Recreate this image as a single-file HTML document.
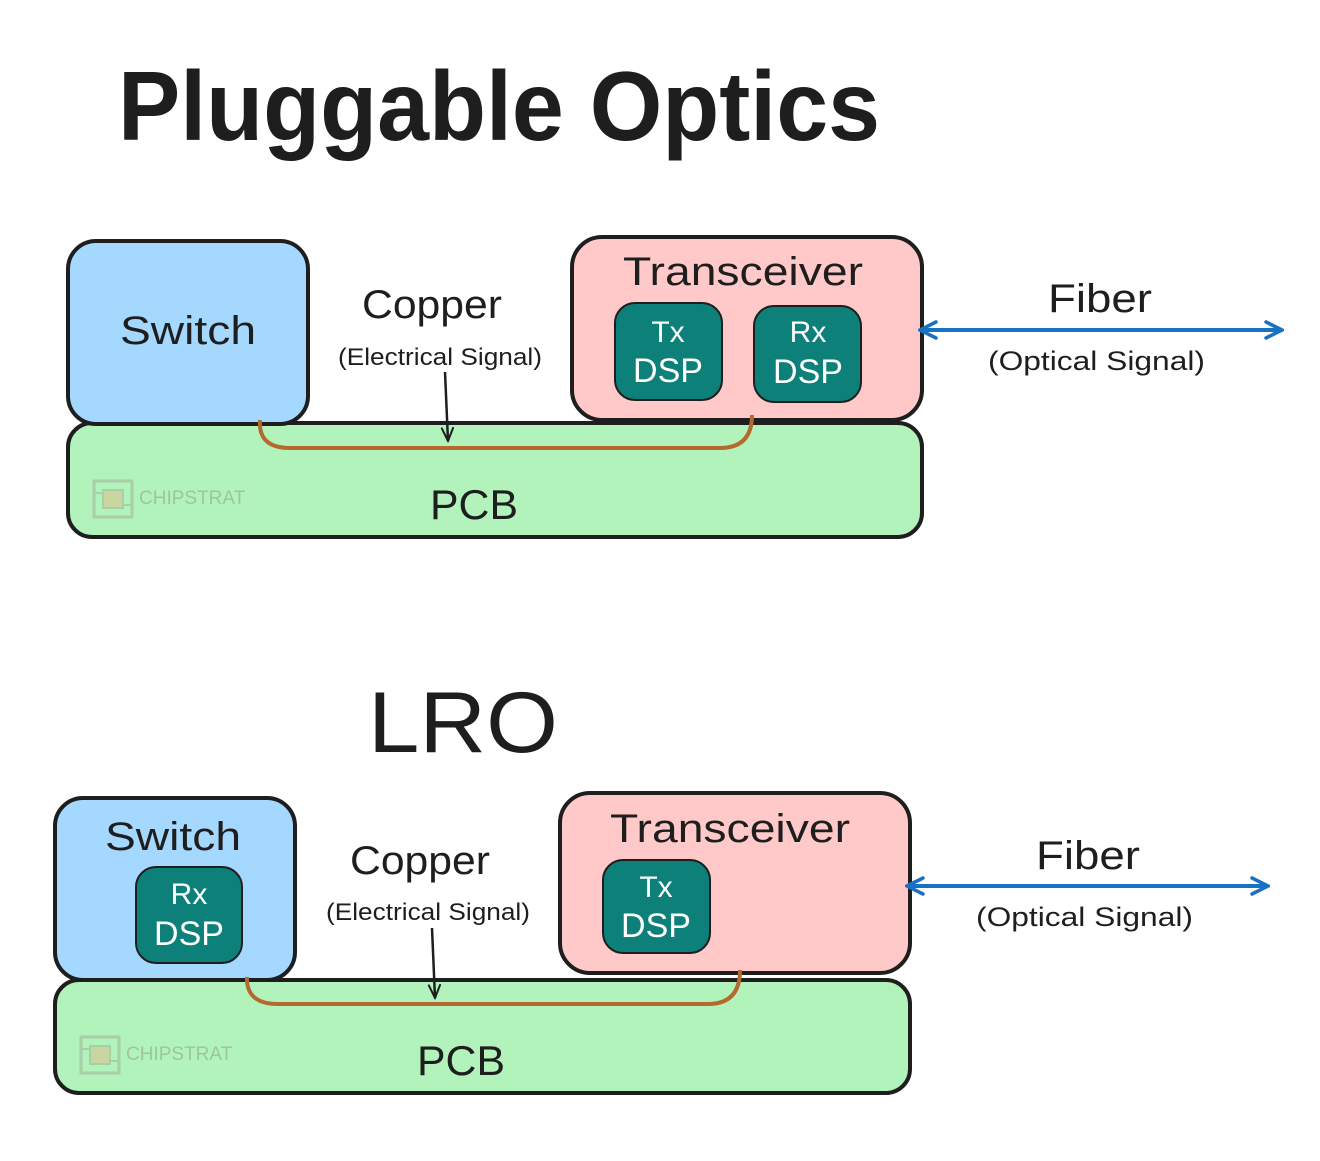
<!DOCTYPE html>
<html><head><meta charset="utf-8"><style>
html,body{margin:0;padding:0;background:#fff;}
svg text{font-family:"Liberation Sans",sans-serif;fill:#1e1e1e;}
</style></head><body>
<svg width="1320" height="1156" viewBox="0 0 1320 1156" xmlns="http://www.w3.org/2000/svg">
<defs>
<marker id="ah" viewBox="0 0 20 20" refX="18" refY="10" markerWidth="20" markerHeight="20" markerUnits="userSpaceOnUse" orient="auto-start-reverse">
<path d="M2 2 L18 10 L2 18" fill="none" stroke="#1971c2" stroke-width="3.5" stroke-linecap="round"/></marker>
<marker id="ak" viewBox="0 0 20 20" refX="18" refY="10" markerWidth="16" markerHeight="16" markerUnits="userSpaceOnUse" orient="auto">
<path d="M2 3 L18 10 L2 17" fill="none" stroke="#1e1e1e" stroke-width="2.5" stroke-linecap="round"/></marker>
<g id="logo">
<rect x="0" y="0" width="38" height="36" fill="none" stroke="#a8cfa6" stroke-width="3"/>
<rect x="9" y="9" width="20" height="18" fill="#c9d6a0" stroke="#a8cfa6" stroke-width="2"/>
<line x1="0" y1="12" x2="9" y2="12" stroke="#a8cfa6" stroke-width="2"/>
<line x1="29" y1="24" x2="38" y2="24" stroke="#a8cfa6" stroke-width="2"/>
</g>
</defs>

<text x="118" y="140" font-size="98" font-weight="bold" textLength="762" lengthAdjust="spacingAndGlyphs">Pluggable Optics</text>

<!-- top -->
<rect x="68" y="423" width="854" height="114" rx="24" fill="#b2f2bb" stroke="#1e1e1e" stroke-width="4"/>
<rect x="68" y="241" width="240" height="183" rx="28" fill="#a5d8ff" stroke="#1e1e1e" stroke-width="4"/>
<rect x="572" y="237" width="350" height="183" rx="30" fill="#ffc9c9" stroke="#1e1e1e" stroke-width="4"/>
<rect x="615" y="303" width="107" height="97" rx="20" fill="#0c8079" stroke="#1e1e1e" stroke-width="2"/>
<rect x="754" y="306" width="107" height="96" rx="20" fill="#0c8079" stroke="#1e1e1e" stroke-width="2"/>
<text x="668" y="342" font-size="30" text-anchor="middle" style="fill:#fff">Tx</text>
<text x="668" y="382" font-size="34" text-anchor="middle" style="fill:#fff">DSP</text>
<text x="808" y="342" font-size="30" text-anchor="middle" style="fill:#fff">Rx</text>
<text x="808" y="383" font-size="34" text-anchor="middle" style="fill:#fff">DSP</text>
<path d="M260 420 Q258 448 290 448 L720 448 Q752 448 752 415" fill="none" stroke="#b5692e" stroke-width="4"/>
<line x1="445" y1="372" x2="448" y2="441" stroke="#1e1e1e" stroke-width="2.5" marker-end="url(#ak)"/>
<line x1="920" y1="330" x2="1282" y2="330" stroke="#1971c2" stroke-width="4" marker-start="url(#ah)" marker-end="url(#ah)"/>
<text x="120" y="344" font-size="40" textLength="136" lengthAdjust="spacingAndGlyphs">Switch</text>
<text x="623" y="285" font-size="40" textLength="240" lengthAdjust="spacingAndGlyphs">Transceiver</text>
<text x="362" y="318" font-size="40" textLength="140" lengthAdjust="spacingAndGlyphs">Copper</text>
<text x="338" y="365" font-size="24" textLength="204" lengthAdjust="spacingAndGlyphs">(Electrical Signal)</text>
<text x="1048" y="312" font-size="40" textLength="104" lengthAdjust="spacingAndGlyphs">Fiber</text>
<text x="988" y="370" font-size="27" textLength="217" lengthAdjust="spacingAndGlyphs">(Optical Signal)</text>
<text x="430" y="519" font-size="42" textLength="88" lengthAdjust="spacingAndGlyphs">PCB</text>
<use href="#logo" x="94" y="481"/>
<text x="139" y="504" font-size="19" style="fill:#9cc79c">CHIPSTRAT</text>

<!-- bottom -->
<text x="368" y="752" font-size="86" textLength="190" lengthAdjust="spacingAndGlyphs">LRO</text>
<rect x="55" y="980" width="855" height="113" rx="24" fill="#b2f2bb" stroke="#1e1e1e" stroke-width="4"/>
<rect x="55" y="798" width="240" height="182" rx="28" fill="#a5d8ff" stroke="#1e1e1e" stroke-width="4"/>
<rect x="560" y="793" width="350" height="180" rx="30" fill="#ffc9c9" stroke="#1e1e1e" stroke-width="4"/>
<rect x="136" y="867" width="106" height="96" rx="20" fill="#0c8079" stroke="#1e1e1e" stroke-width="2"/>
<rect x="603" y="860" width="107" height="93" rx="20" fill="#0c8079" stroke="#1e1e1e" stroke-width="2"/>
<text x="189" y="904" font-size="30" text-anchor="middle" style="fill:#fff">Rx</text>
<text x="189" y="945" font-size="34" text-anchor="middle" style="fill:#fff">DSP</text>
<text x="656" y="897" font-size="30" text-anchor="middle" style="fill:#fff">Tx</text>
<text x="656" y="937" font-size="34" text-anchor="middle" style="fill:#fff">DSP</text>
<path d="M247 977 Q246 1004 278 1004 L708 1004 Q740 1004 740 970" fill="none" stroke="#b5692e" stroke-width="4"/>
<line x1="432" y1="928" x2="435" y2="998" stroke="#1e1e1e" stroke-width="2.5" marker-end="url(#ak)"/>
<line x1="907" y1="886" x2="1268" y2="886" stroke="#1971c2" stroke-width="4" marker-start="url(#ah)" marker-end="url(#ah)"/>
<text x="105" y="850" font-size="40" textLength="136" lengthAdjust="spacingAndGlyphs">Switch</text>
<text x="610" y="842" font-size="40" textLength="240" lengthAdjust="spacingAndGlyphs">Transceiver</text>
<text x="350" y="874" font-size="40" textLength="140" lengthAdjust="spacingAndGlyphs">Copper</text>
<text x="326" y="920" font-size="24" textLength="204" lengthAdjust="spacingAndGlyphs">(Electrical Signal)</text>
<text x="1036" y="869" font-size="40" textLength="104" lengthAdjust="spacingAndGlyphs">Fiber</text>
<text x="976" y="926" font-size="27" textLength="217" lengthAdjust="spacingAndGlyphs">(Optical Signal)</text>
<text x="417" y="1075" font-size="42" textLength="88" lengthAdjust="spacingAndGlyphs">PCB</text>
<use href="#logo" x="81" y="1037"/>
<text x="126" y="1060" font-size="19" style="fill:#9cc79c">CHIPSTRAT</text>
</svg>
</body></html>
